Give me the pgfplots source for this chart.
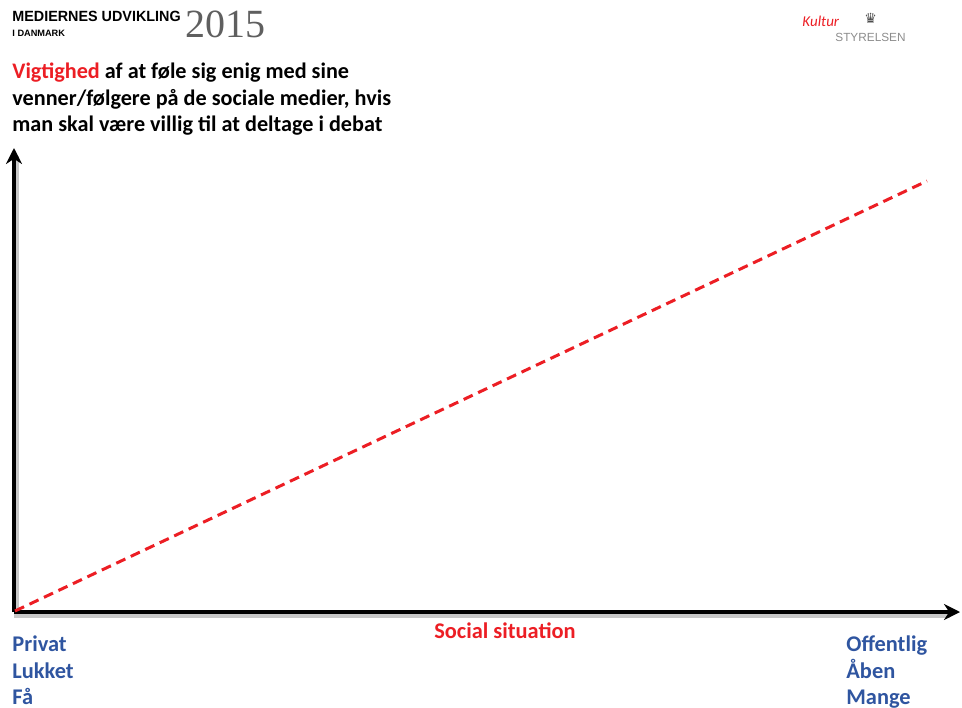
\documentclass[border=0pt]{standalone}
\usepackage{pgfplots}
\pgfplotsset{compat=1.18}
\usepackage{fontspec}
\setmainfont{Carlito}
\newfontfamily\heavy{Liberation Sans}
\newfontfamily\numserif{Liberation Serif}
\newfontfamily\dejavu{DejaVu Sans}
\usetikzlibrary{arrows.meta}
\definecolor{tred}{RGB}{236,30,36}
\definecolor{tblue}{RGB}{47,85,160}
\definecolor{logogray}{RGB}{95,95,95}
\begin{document}
\begin{tikzpicture}[x=0.5pt,y=0.5pt]
\path[use as bounding box] (0,0) rectangle (962,707);
% header logo
\node[anchor=base west, inner sep=0pt, font=\heavy\bfseries\fontsize{7.4pt}{8pt}\selectfont] at (12,707-22) {\scalebox{0.97}[1]{MEDIERNES UDVIKLING}};
\node[anchor=base west, inner sep=0pt, font=\heavy\bfseries\fontsize{4.6pt}{5pt}\selectfont] at (12,707-37) {I DANMARK};
\node[anchor=base west, inner sep=0pt, text=logogray, font=\numserif\fontsize{20pt}{22pt}\selectfont] at (185,707-38) {2015};
% right logo
\node[anchor=base west, inner sep=0pt, text=tred, font=\itshape\fontsize{7.5pt}{8pt}\selectfont] at (802,707-27) {Kultur};
\node[anchor=base west, inner sep=0pt, text=black!70, font=\dejavu\fontsize{7pt}{8pt}\selectfont] at (864,707-24) {♛};
\node[anchor=base west, inner sep=0pt, text=black!45, font=\heavy\fontsize{5.9pt}{6pt}\selectfont] at (835,707-42) {STYRELSEN};
% title
\node[anchor=base west, inner sep=0pt, font=\bfseries\fontsize{11.1pt}{12pt}\selectfont] at (12,707-79) {\textcolor{tred}{Vigtighed} af at føle sig enig med sine};
\node[anchor=base west, inner sep=0pt, font=\bfseries\fontsize{11.1pt}{12pt}\selectfont] at (12,707-106) {venner/følgere på de sociale medier, hvis};
\node[anchor=base west, inner sep=0pt, font=\bfseries\fontsize{11.1pt}{12pt}\selectfont] at (12,707-132) {man skal være villig til at deltage i debat};
% shadows of axes
\draw[black!22, line width=2pt] (17,707-156) -- (17,707-616);
\draw[black!22, line width=2pt] (14,707-616) -- (950,707-616);
\begin{axis}[
  at={(7pt,47.5pt)}, anchor=origin,
  scale only axis, width=473pt, height=232pt,
  xmin=0, xmax=946, ymin=0, ymax=464,
  axis lines=left,
  xtick=\empty, ytick=\empty,
  axis line style={line width=2pt, -{Stealth[length=8pt,width=8pt]}},
  clip=false,
]
\addplot[tred, line width=1.5pt, dash pattern=on 5pt off 3pt] coordinates {(1,1) (913,431)};
\end{axis}
% axis texts
\node[anchor=base, inner sep=0pt, text=tred, font=\bfseries\fontsize{11.2pt}{12pt}\selectfont] at (505,707-638) {Social situation};
\node[anchor=base west, inner sep=0pt, text=tblue, font=\bfseries\fontsize{11.2pt}{12pt}\selectfont] at (12,707-651) {Privat};
\node[anchor=base west, inner sep=0pt, text=tblue, font=\bfseries\fontsize{11.2pt}{12pt}\selectfont] at (12,707-678) {Lukket};
\node[anchor=base west, inner sep=0pt, text=tblue, font=\bfseries\fontsize{11.2pt}{12pt}\selectfont] at (12,707-704) {Få};
\node[anchor=base west, inner sep=0pt, text=tblue, font=\bfseries\fontsize{11.2pt}{12pt}\selectfont] at (846,707-651) {Offentlig};
\node[anchor=base west, inner sep=0pt, text=tblue, font=\bfseries\fontsize{11.2pt}{12pt}\selectfont] at (846,707-678) {Åben};
\node[anchor=base west, inner sep=0pt, text=tblue, font=\bfseries\fontsize{11.2pt}{12pt}\selectfont] at (846,707-704) {Mange};
\end{tikzpicture}
\end{document}
